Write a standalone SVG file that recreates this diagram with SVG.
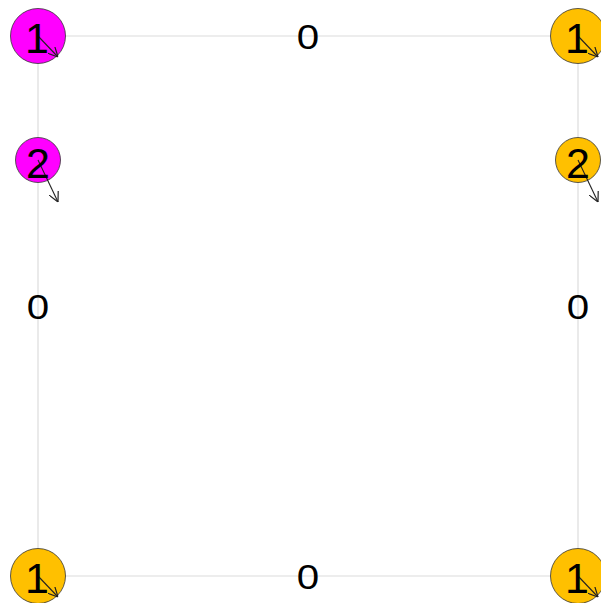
<svg xmlns="http://www.w3.org/2000/svg" width="601" height="603" viewBox="0 0 601 603">
<style>
.edge{stroke:#dcdcdc;stroke-width:1.2;fill:none}
.arr{stroke:#222;stroke-width:1.1;fill:none;marker-end:url(#ah)}
.n{stroke:#333;stroke-width:0.8}
.mag{fill:#ff00ff}
.org{fill:#ffc000}
.nl{font-family:"Liberation Sans",Arial,sans-serif;font-size:43px;fill:#000;text-anchor:middle}
.el{font-family:"Liberation Sans",Arial,sans-serif;font-size:36px;fill:#000;text-anchor:middle}
</style>
<defs>
<marker id="ah" viewBox="0 0 10 10" refX="10" refY="5" markerWidth="10" markerHeight="10" markerUnits="userSpaceOnUse" orient="auto">
<path d="M0,0 L10,5 L0,10" fill="none" stroke="#222" stroke-width="1.2"/>
</marker>
</defs>
<g id="connectors">
<line class="edge" x1="38" y1="36" x2="578" y2="36"/>
<line class="edge" x1="38" y1="36" x2="38" y2="576"/>
<line class="edge" x1="578" y1="36" x2="578" y2="576"/>
<line class="edge" x1="38" y1="576" x2="578" y2="576"/>
<text class="el" transform="translate(308,49) scale(1.12,1)">0</text>
<text class="el" transform="translate(38,319) scale(1.12,1)">0</text>
<text class="el" transform="translate(578,319) scale(1.12,1)">0</text>
<text class="el" transform="translate(308,589) scale(1.12,1)">0</text>
</g>
<g id="node-tl">
<circle class="n mag" cx="38" cy="36" r="27.5"/>
<line class="arr" x1="38" y1="36" x2="58" y2="57"/>
<text class="nl" x="37" y="53">1</text>
</g>
<g id="node-l2">
<circle class="n mag" cx="38" cy="160" r="22.5"/>
<line class="arr" x1="38" y1="160" x2="58" y2="202"/>
<text class="nl" x="38" y="178">2</text>
</g>
<g id="node-tr">
<circle class="n org" cx="578" cy="36" r="27.5"/>
<line class="arr" x1="578" y1="36" x2="598" y2="57"/>
<text class="nl" x="577" y="53">1</text>
</g>
<g id="node-r2">
<circle class="n org" cx="578" cy="160" r="22.5"/>
<line class="arr" x1="578" y1="160" x2="598" y2="202"/>
<text class="nl" x="578" y="178">2</text>
</g>
<g id="node-bl">
<circle class="n org" cx="38" cy="576" r="27.5"/>
<line class="arr" x1="38" y1="576" x2="58" y2="597"/>
<text class="nl" x="37" y="593">1</text>
</g>
<g id="node-br">
<circle class="n org" cx="578" cy="576" r="27.5"/>
<line class="arr" x1="578" y1="576" x2="598" y2="597"/>
<text class="nl" x="577" y="593">1</text>
</g>
</svg>
